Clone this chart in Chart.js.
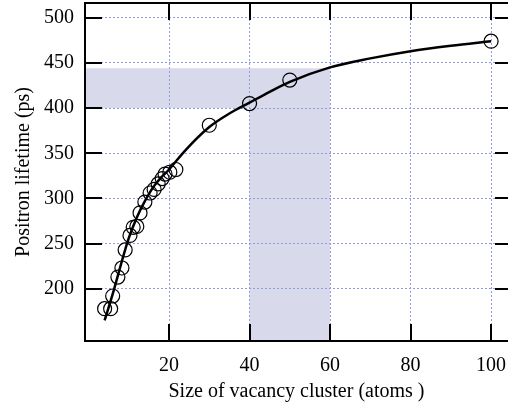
<!DOCTYPE html>
<html>
<head>
<meta charset="utf-8">
<script src="https://cdn.jsdelivr.net/npm/chart.js@4.4.1/dist/chart.umd.min.js"></script>
<style>
html,body{margin:0;padding:0;background:#fff;}
#wrap{width:508px;height:405px;}
</style>
</head>
<body>
<div id="wrap"><canvas id="c" width="508" height="405"></canvas></div>
<script>
// measured data (cluster size, positron lifetime)
const clusterSize = [4, 5.5, 6, 7.3, 8.3, 9.1, 10.3, 11.1, 12, 12.8, 14, 15.3, 16.3, 17.3, 18.3, 19, 20.2, 21.7, 30, 40, 50, 100];
const lifetime    = [178, 178, 192, 213, 223, 243, 259, 268, 269, 284, 296, 306, 310, 316, 322, 327, 329, 332, 381, 405, 431, 474];
// fitted curve
const curveSize = [4, 6, 8, 10, 12, 14, 16, 18, 20, 24, 30, 35, 40, 45, 50, 60, 70, 80, 90, 100];
const curveLife = [165, 194, 226, 256, 279, 297, 312, 323, 332, 353, 379, 394, 406, 418, 429, 445, 455, 463, 469, 474];
// tick labels
const xTicks = [20, 40, 60, 80, 100];
const yTicks = [200, 250, 300, 350, 400, 450, 500];
// shaded bands
const bandSize = [40, 60];
const bandLife = [400, 444];

const serif = '"Liberation Serif", "DejaVu Serif", serif';
const bandColor = '#d9d9ec';
const gridColor = '#8d9de0';

const frame = {
  id: 'frame',
  beforeDraw(chart) {
    const {ctx, chartArea: a, scales: {x, y}} = chart;
    ctx.save();
    ctx.fillStyle = '#fff';
    ctx.fillRect(0, 0, chart.width, chart.height);
    ctx.fillStyle = bandColor;
    const x0 = x.getPixelForValue(bandSize[0]), x1 = x.getPixelForValue(bandSize[1]);
    const y0 = y.getPixelForValue(bandLife[1]), y1 = y.getPixelForValue(bandLife[0]);
    ctx.fillRect(a.left, y0, x1 - a.left, y1 - y0);
    ctx.fillRect(x0, y1, x1 - x0, a.bottom - y1);
    ctx.restore();
  },
  afterDraw(chart) {
    const {ctx, chartArea: a, scales: {x, y}} = chart;
    ctx.save();
    ctx.strokeStyle = '#000';
    ctx.lineWidth = 2;
    ctx.beginPath();
    ctx.moveTo(a.right + 2, a.top); ctx.lineTo(a.left, a.top);
    ctx.lineTo(a.left, a.bottom); ctx.lineTo(a.right + 2, a.bottom);
    ctx.stroke();
    const L = 17;
    ctx.beginPath();
    yTicks.forEach(v => {
      const p = Math.round(y.getPixelForValue(v));
      ctx.moveTo(a.left, p); ctx.lineTo(a.left + L, p);
      ctx.moveTo(a.right + 4, p); ctx.lineTo(a.right - L + 4, p);
    });
    xTicks.forEach(v => {
      const p = Math.round(x.getPixelForValue(v));
      ctx.moveTo(p, a.top); ctx.lineTo(p, a.top + L);
      ctx.moveTo(p, a.bottom); ctx.lineTo(p, a.bottom - L);
    });
    ctx.stroke();
    ctx.restore();
  }
};

function noPad(s) {
  s.paddingTop = 0; s.paddingBottom = 0; s.paddingLeft = 0; s.paddingRight = 0;
}

new Chart(document.getElementById('c'), {
  type: 'scatter',
  data: {
    datasets: [
      {
        type: 'line',
        data: curveSize.map((v, i) => ({x: v, y: curveLife[i]})),
        borderColor: '#000',
        borderWidth: 2.5,
        pointRadius: 0,
        fill: false,
        cubicInterpolationMode: 'monotone'
      },
      {
        data: clusterSize.map((v, i) => ({x: v, y: lifetime[i]})),
        pointStyle: 'circle',
        pointRadius: 7,
        pointBorderWidth: 1.2,
        borderColor: '#000',
        backgroundColor: 'rgba(0,0,0,0)',
        showLine: false
      }
    ]
  },
  options: {
    responsive: false,
    animation: false,
    layout: {autoPadding: false, padding: {top: 3, right: -5, left: 0, bottom: 0}},
    plugins: {legend: {display: false}, tooltip: {enabled: false}},
    scales: {
      x: {
        type: 'linear',
        min: -0.87, max: 104.2,
        afterBuildTicks: s => { s.ticks = xTicks.map(v => ({value: v})); },
        afterFit: s => { s.height = 64; noPad(s); },
        border: {display: false, dash: [2, 2]},
        grid: {color: gridColor, lineWidth: 1, drawTicks: false},
        ticks: {color: '#000', font: {family: serif, size: 20}, padding: 13, maxRotation: 0, autoSkip: false},
        title: {display: true, text: 'Size of vacancy cluster (atoms )', color: '#000', font: {family: serif, size: 20, lineHeight: 1.35}, padding: {top: 0, bottom: 0}}
      },
      y: {
        type: 'linear',
        min: 142.2, max: 516.3,
        afterBuildTicks: s => { s.ticks = yTicks.map(v => ({value: v})); },
        afterFit: s => { s.width = 85; noPad(s); },
        border: {display: false, dash: [2, 2]},
        grid: {color: gridColor, lineWidth: 1, drawTicks: false},
        ticks: {color: '#000', font: {family: serif, size: 20}, padding: 11, autoSkip: false},
        title: {display: true, text: 'Positron lifetime (ps)', color: '#000', font: {family: serif, size: 20}, padding: {top: 12, bottom: 0}}
      }
    }
  },
  plugins: [frame]
});
</script>
</body>
</html>
